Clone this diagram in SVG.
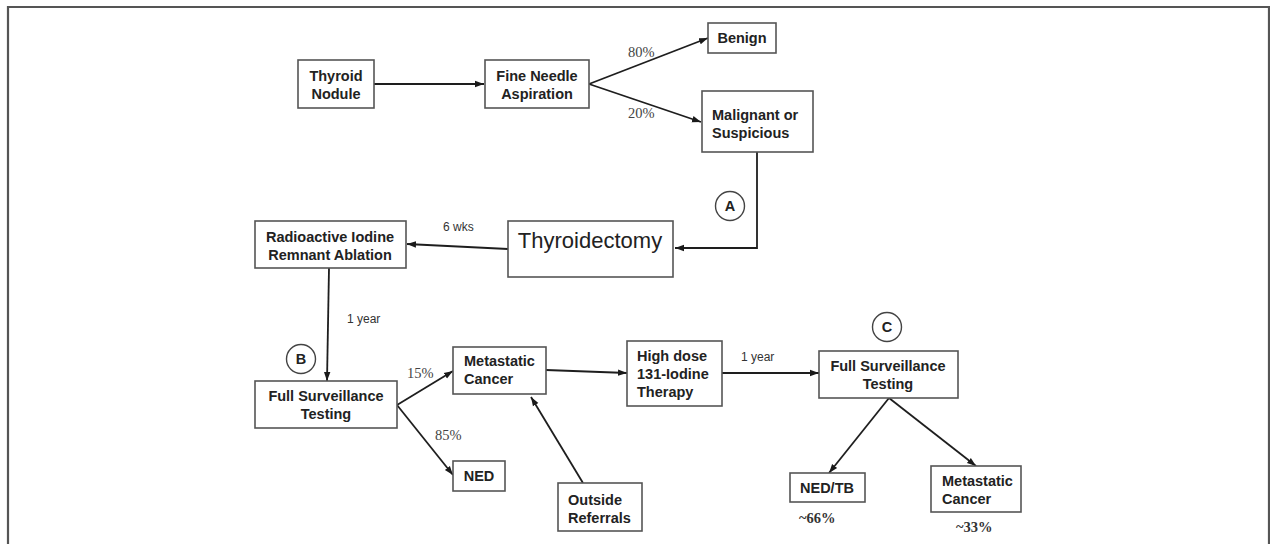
<svg xmlns="http://www.w3.org/2000/svg" width="1270" height="544" viewBox="0 0 1270 544">
<defs>
<marker id="arr" markerWidth="10" markerHeight="8" refX="9" refY="4" orient="auto" markerUnits="userSpaceOnUse">
<path d="M0,0.8 L9,4 L0,7.2 Z" fill="#1a1a1a"/>
</marker>
</defs>
<style>
.box{fill:#fff;stroke:#555;stroke-width:1.6}
.t{font-family:"Liberation Sans",Arial,sans-serif;font-weight:bold;font-size:14.5px;fill:#222}
.tr{font-family:"Liberation Sans",Arial,sans-serif;font-size:12px;fill:#333}
.pc{font-family:"Liberation Serif","Times New Roman",serif;font-size:14.5px;fill:#444}
.pcb{font-family:"Liberation Serif","Times New Roman",serif;font-size:14.5px;font-weight:bold;fill:#333}
.c{fill:#fff;stroke:#444;stroke-width:1.4}
.ln{fill:none;stroke:#1e1e1e;stroke-width:1.8}
</style>
<rect width="1270" height="544" fill="#fff"/>
<path d="M8,544 L8,7 L1269,7 L1269,544" fill="none" stroke="#555" stroke-width="2.2"/>

<g id="connectors">
<line class="ln" x1="374" y1="84" x2="484" y2="84" marker-end="url(#arr)"/>
<line class="ln" x1="589" y1="84" x2="708" y2="38" marker-end="url(#arr)"/>
<line class="ln" x1="589" y1="84" x2="701" y2="122" marker-end="url(#arr)"/>
<polyline class="ln" points="757,152 757,248 675,248" marker-end="url(#arr)"/>
<line class="ln" x1="508" y1="249" x2="407" y2="244" marker-end="url(#arr)"/>
<line class="ln" x1="329" y1="268" x2="327" y2="381" marker-end="url(#arr)"/>
<line class="ln" x1="397" y1="405" x2="453" y2="371" marker-end="url(#arr)"/>
<line class="ln" x1="397" y1="405" x2="453" y2="475" marker-end="url(#arr)"/>
<line class="ln" x1="583" y1="483" x2="531" y2="397" marker-end="url(#arr)"/>
<line class="ln" x1="546" y1="370" x2="627" y2="373" marker-end="url(#arr)"/>
<line class="ln" x1="722" y1="373" x2="819" y2="373" marker-end="url(#arr)"/>
<line class="ln" x1="889" y1="398" x2="829" y2="473" marker-end="url(#arr)"/>
<line class="ln" x1="889" y1="398" x2="976" y2="466" marker-end="url(#arr)"/>
<text class="pc" x="628" y="57">80%</text>
<text class="pc" x="628" y="118">20%</text>
<text class="tr" x="443" y="231">6 wks</text>
<text class="tr" x="347" y="323">1 year</text>
<text class="pc" x="407" y="378">15%</text>
<text class="pc" x="435" y="440">85%</text>
<text class="tr" x="741" y="361">1 year</text>
</g>

<g id="thyroid-nodule">
<rect class="box" x="298" y="60" width="76" height="48"/>
<text class="t" x="336" y="81" text-anchor="middle">Thyroid</text>
<text class="t" x="336" y="99" text-anchor="middle">Nodule</text>
</g>
<g id="fna">
<rect class="box" x="485" y="60" width="104" height="48"/>
<text class="t" x="537" y="81" text-anchor="middle">Fine Needle</text>
<text class="t" x="537" y="99" text-anchor="middle">Aspiration</text>
</g>
<g id="benign">
<rect class="box" x="708" y="23" width="68" height="30"/>
<text class="t" x="742" y="43" text-anchor="middle">Benign</text>
</g>
<g id="malignant">
<rect class="box" x="702" y="91" width="111" height="61"/>
<text class="t" x="712" y="120">Malignant or</text>
<text class="t" x="712" y="138">Suspicious</text>
</g>
<g id="circle-a">
<circle class="c" cx="730" cy="206" r="14.5"/>
<text class="t" x="730" y="211" text-anchor="middle" font-size="13px">A</text>
</g>
<g id="thyroidectomy">
<rect class="box" x="508" y="221" width="165" height="56"/>
<text x="590" y="248" text-anchor="middle" font-family="Liberation Sans, Arial, sans-serif" font-size="22px" fill="#222">Thyroidectomy</text>
</g>
<g id="rai">
<rect class="box" x="255" y="221" width="151" height="47"/>
<text class="t" x="330" y="242" text-anchor="middle">Radioactive Iodine</text>
<text class="t" x="330" y="260" text-anchor="middle">Remnant Ablation</text>
</g>
<g id="circle-b">
<circle class="c" cx="301" cy="359" r="14.5"/>
<text class="t" x="301" y="364" text-anchor="middle" font-size="13px">B</text>
</g>
<g id="fst-b">
<rect class="box" x="255" y="381" width="142" height="47"/>
<text class="t" x="326" y="401" text-anchor="middle">Full Surveillance</text>
<text class="t" x="326" y="419" text-anchor="middle">Testing</text>
</g>
<g id="metastatic-1">
<rect class="box" x="453" y="347" width="93" height="47"/>
<text class="t" x="464" y="366">Metastatic</text>
<text class="t" x="464" y="384">Cancer</text>
</g>
<g id="ned">
<rect class="box" x="453" y="461" width="52" height="30"/>
<text class="t" x="479" y="481" text-anchor="middle">NED</text>
</g>
<g id="outside-referrals">
<rect class="box" x="558" y="483" width="84" height="48"/>
<text class="t" x="568" y="505">Outside</text>
<text class="t" x="568" y="523">Referrals</text>
</g>
<g id="high-dose">
<rect class="box" x="627" y="341" width="95" height="65"/>
<text class="t" x="637" y="361">High dose</text>
<text class="t" x="637" y="379">131-Iodine</text>
<text class="t" x="637" y="397">Therapy</text>
</g>
<g id="circle-c">
<circle class="c" cx="887" cy="327" r="14.5"/>
<text class="t" x="887" y="332" text-anchor="middle" font-size="13px">C</text>
</g>
<g id="fst-c">
<rect class="box" x="819" y="351" width="139" height="47"/>
<text class="t" x="888" y="371" text-anchor="middle">Full Surveillance</text>
<text class="t" x="888" y="389" text-anchor="middle">Testing</text>
</g>
<g id="ned-tb">
<rect class="box" x="790" y="473" width="75" height="29"/>
<text class="t" x="827" y="493" text-anchor="middle">NED/TB</text>
<text class="pcb" x="799" y="523">~66%</text>
</g>
<g id="metastatic-2">
<rect class="box" x="931" y="466" width="90" height="46"/>
<text class="t" x="942" y="486">Metastatic</text>
<text class="t" x="942" y="504">Cancer</text>
<text class="pcb" x="956" y="532">~33%</text>
</g>
</svg>
